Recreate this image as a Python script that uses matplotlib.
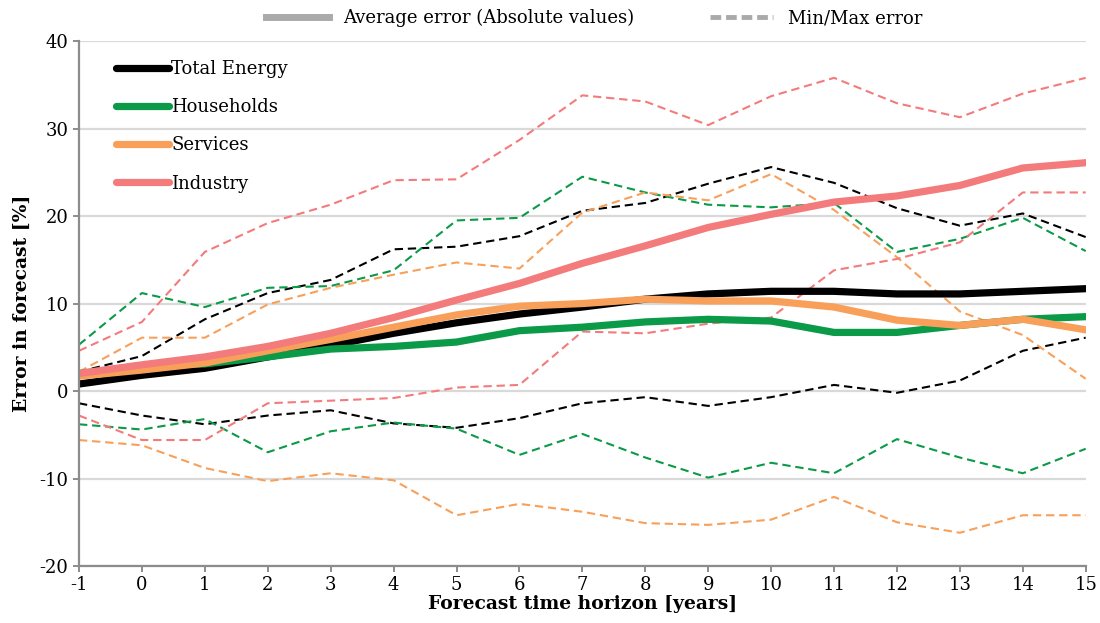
import matplotlib.pyplot as plt
from matplotlib.lines import Line2D

plt.rcParams['font.family'] = ['DejaVu Serif']
plt.rcParams['axes.unicode_minus'] = False

horizon = list(range(-1, 16))

# average absolute error per sector
total_avg = [0.8, 1.8, 2.6, 3.9, 5.2, 6.6, 7.8, 8.8, 9.6, 10.5, 11.1, 11.4, 11.4, 11.1, 11.1, 11.4, 11.7]
households_avg = [2.0, 2.9, 3.1, 3.9, 4.8, 5.1, 5.6, 6.9, 7.3, 7.9, 8.2, 8.0, 6.7, 6.7, 7.5, 8.2, 8.5]
services_avg = [1.7, 2.4, 3.2, 4.6, 5.9, 7.3, 8.7, 9.7, 10.0, 10.5, 10.3, 10.3, 9.6, 8.1, 7.5, 8.2, 7.0]
industry_avg = [2.0, 3.0, 3.9, 5.1, 6.6, 8.4, 10.4, 12.3, 14.6, 16.6, 18.7, 20.2, 21.6, 22.3, 23.5, 25.5, 26.1]

# min / max error per sector
total_max = [2.2, 4.0, 8.2, 11.2, 12.7, 16.2, 16.5, 17.7, 20.6, 21.5, 23.7, 25.6, 23.8, 20.9, 18.9, 20.3, 17.6]
total_min = [-1.4, -2.8, -3.8, -2.8, -2.2, -3.7, -4.2, -3.1, -1.4, -0.7, -1.7, -0.7, 0.7, -0.2, 1.2, 4.6, 6.1]
households_max = [5.3, 11.2, 9.6, 11.8, 12.0, 13.8, 19.5, 19.8, 24.5, 22.7, 21.3, 21.0, 21.5, 15.9, 17.4, 19.8, 16.0]
households_min = [-3.8, -4.4, -3.2, -7.0, -4.6, -3.6, -4.3, -7.3, -4.9, -7.6, -9.9, -8.2, -9.4, -5.5, -7.6, -9.4, -6.6]
services_max = [2.2, 6.1, 6.1, 9.9, 11.8, 13.3, 14.7, 14.0, 20.4, 22.7, 21.8, 24.8, 20.7, 15.3, 9.1, 6.4, 1.4]
services_min = [-5.6, -6.2, -8.8, -10.3, -9.4, -10.2, -14.2, -12.9, -13.8, -15.1, -15.3, -14.7, -12.1, -15.0, -16.2, -14.2, -14.2]
industry_max = [4.6, 7.9, 15.9, 19.2, 21.3, 24.1, 24.2, 28.7, 33.8, 33.1, 30.4, 33.7, 35.8, 32.9, 31.3, 34.0, 35.8]
industry_min = [-2.8, -5.6, -5.6, -1.4, -1.1, -0.8, 0.4, 0.7, 6.8, 6.6, 7.7, 8.4, 13.8, 15.1, 17.0, 22.7, 22.7]

sectors = ["Total Energy", "Households", "Services", "Industry"]
colors = ["#000000", "#0A9A48", "#F8A05A", "#F37B7B"]
averages = [total_avg, households_avg, services_avg, industry_avg]
maxima = [total_max, households_max, services_max, industry_max]
minima = [total_min, households_min, services_min, industry_min]

lw_avg = 5.2
lw_mm = 1.5
dash = (4, 2.3)
grey = "#8C8C8C"

fig = plt.figure(figsize=(11, 6.23), dpi=100)
ax = fig.add_axes([0.0718, 0.0915, 0.9152, 0.8425])

for c, lo, hi in zip(colors, minima, maxima):
    ax.plot(horizon, hi, color=c, lw=lw_mm, linestyle=(0, dash))
    ax.plot(horizon, lo, color=c, lw=lw_mm, linestyle=(0, dash))

handles = []
for name, c, avg in zip(sectors, colors, averages):
    ax.plot(horizon, avg, color=c, lw=lw_avg, solid_joinstyle='round')
    handles.append(Line2D([], [], color=c, lw=lw_avg, solid_capstyle='round', label=name))

ax.set_xlim(-1, 15)
ax.set_ylim(-20, 40)
ax.set_xticks(horizon)
ax.set_yticks(range(-20, 41, 10))
ax.grid(axis='y', color="#D9D9D9", lw=1.6)
ax.set_axisbelow(True)
for s in ['top', 'right']:
    ax.spines[s].set_visible(False)
for s in ['left', 'bottom']:
    ax.spines[s].set_color(grey)
    ax.spines[s].set_linewidth(1.6)
ax.tick_params(axis='both', colors=grey, length=4, width=1.4, labelcolor='black', labelsize=13)
ax.tick_params(axis='x', pad=3)

ax.set_xlabel("Forecast time horizon [years]", fontsize=13.5, fontweight='bold', labelpad=1)
ax.set_ylabel("Error in forecast [%]", fontsize=13.5, fontweight='bold', labelpad=6)

ax.legend(handles=handles, loc='upper left', bbox_to_anchor=(0.021, 0.995), frameon=False,
          fontsize=13, handlelength=2.9, handletextpad=0.15, labelspacing=1.12)

style_handles = [
    Line2D([], [], color="#AAAAAA", lw=5, label="Average error (Absolute values)"),
    Line2D([], [], color="#AAAAAA", lw=3.5, linestyle=(0, (2.2, 1.0)), label="Min/Max error"),
]
fig.legend(handles=style_handles, loc='upper center', bbox_to_anchor=(0.54, 1.012), ncol=2,
           frameon=False, fontsize=13, handlelength=3.5, handletextpad=0.8, columnspacing=4.2)

fig.savefig("out.png", dpi=100)
